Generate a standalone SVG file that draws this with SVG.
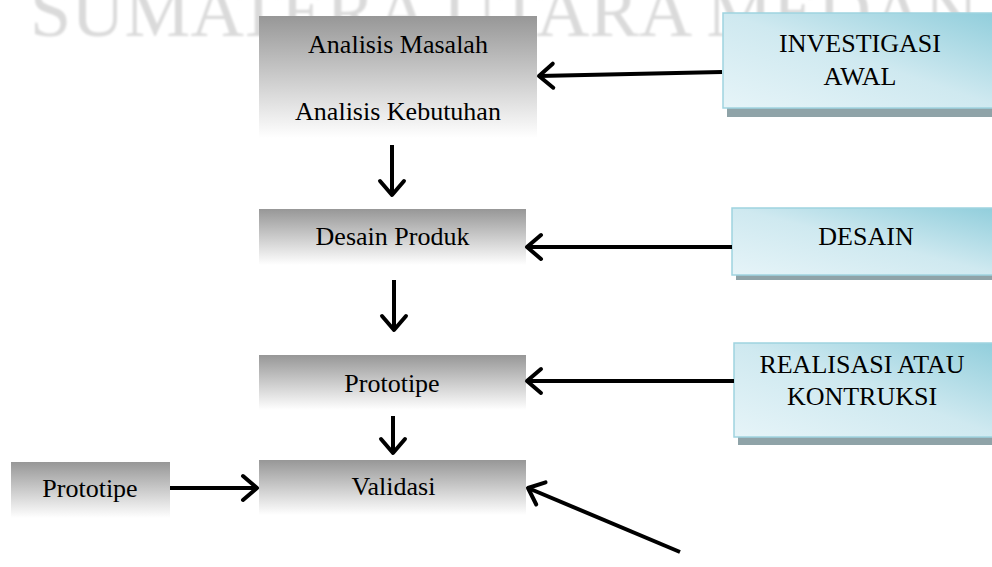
<svg xmlns="http://www.w3.org/2000/svg" width="992" height="567" viewBox="0 0 992 567">
<style>
.t{font-family:"Liberation Serif","Times New Roman",serif;font-size:26px;fill:#000;text-anchor:middle}
.gray{fill:url(#gg)}
.blue{fill:url(#bg);stroke:#9fd3df;stroke-width:1.5}
.shadow{fill:#8fa3a8}
.conn{stroke:#000;stroke-width:4;fill:none;marker-end:url(#ah)}
.wm{font-family:"Liberation Serif","Times New Roman",serif;font-size:74px;fill:#dadada}
</style>
<defs>
<linearGradient id="gg" x1="0" y1="0" x2="0" y2="1">
<stop offset="0" stop-color="#979797"/>
<stop offset="1" stop-color="#ffffff"/>
</linearGradient>
<linearGradient id="bg" x1="1" y1="0" x2="0" y2="1">
<stop offset="0" stop-color="#8fcddb"/>
<stop offset="0.5" stop-color="#cfe9f0"/>
<stop offset="1" stop-color="#e6f4f8"/>
</linearGradient>
<filter id="blur" x="-5%" y="-50%" width="110%" height="200%"><feGaussianBlur stdDeviation="1.2"/></filter>
<marker id="ah" markerUnits="userSpaceOnUse" viewBox="-18 -15 22 30" markerWidth="22" markerHeight="30" refX="0" refY="0" orient="auto" overflow="visible">
<path d="M-14,-12 L0,0 L-14,12" fill="none" stroke="#000" stroke-width="4" stroke-linecap="round" stroke-linejoin="round"/>
</marker>
</defs>
<rect width="992" height="567" fill="#fff"/>
<text class="wm" x="30" y="36" filter="url(#blur)">SUMATERA UTARA MEDAN</text>

<g id="analisis">
<rect class="gray" x="259" y="16" width="278" height="122"/>
<text class="t" x="398" y="53">Analisis Masalah</text>
<text class="t" x="398" y="120">Analisis Kebutuhan</text>
</g>
<g id="investigasi">
<rect class="shadow" x="727" y="19" width="280" height="98"/>
<rect class="blue" x="723" y="13" width="280" height="95"/>
<text class="t" x="860" y="52">INVESTIGASI</text>
<text class="t" x="860" y="85">AWAL</text>
</g>
<g id="desain-produk">
<rect class="gray" x="259" y="209" width="267" height="56"/>
<text class="t" x="392.5" y="245">Desain Produk</text>
</g>
<g id="desain">
<rect class="shadow" x="736" y="213" width="270" height="67"/>
<rect class="blue" x="732" y="208" width="270" height="67"/>
<text class="t" x="866" y="245">DESAIN</text>
</g>
<g id="prototipe">
<rect class="gray" x="259" y="355" width="267" height="55"/>
<text class="t" x="392" y="392">Prototipe</text>
</g>
<g id="realisasi">
<rect class="shadow" x="738" y="349" width="270" height="96"/>
<rect class="blue" x="734" y="343" width="270" height="94"/>
<text class="t" x="862" y="373">REALISASI ATAU</text>
<text class="t" x="862" y="405">KONTRUKSI</text>
</g>
<g id="validasi">
<rect class="gray" x="259" y="460" width="267" height="55"/>
<text class="t" x="393.5" y="495">Validasi</text>
</g>
<g id="prototipe-left">
<rect class="gray" x="11" y="462" width="159" height="56"/>
<text class="t" x="90" y="497">Prototipe</text>
</g>

<g id="connectors">
<line class="conn" x1="722" y1="72" x2="539" y2="76"/>
<line class="conn" x1="732" y1="247" x2="527" y2="247"/>
<line class="conn" x1="734" y1="381" x2="527" y2="381"/>
<line class="conn" x1="680" y1="552" x2="528" y2="488"/>
<line class="conn" x1="170" y1="488" x2="257" y2="488"/>
<line class="conn" x1="392" y1="145" x2="392" y2="195"/>
<line class="conn" x1="394" y1="280" x2="394" y2="330"/>
<line class="conn" x1="393" y1="416" x2="393" y2="453"/>
</g>
</svg>
